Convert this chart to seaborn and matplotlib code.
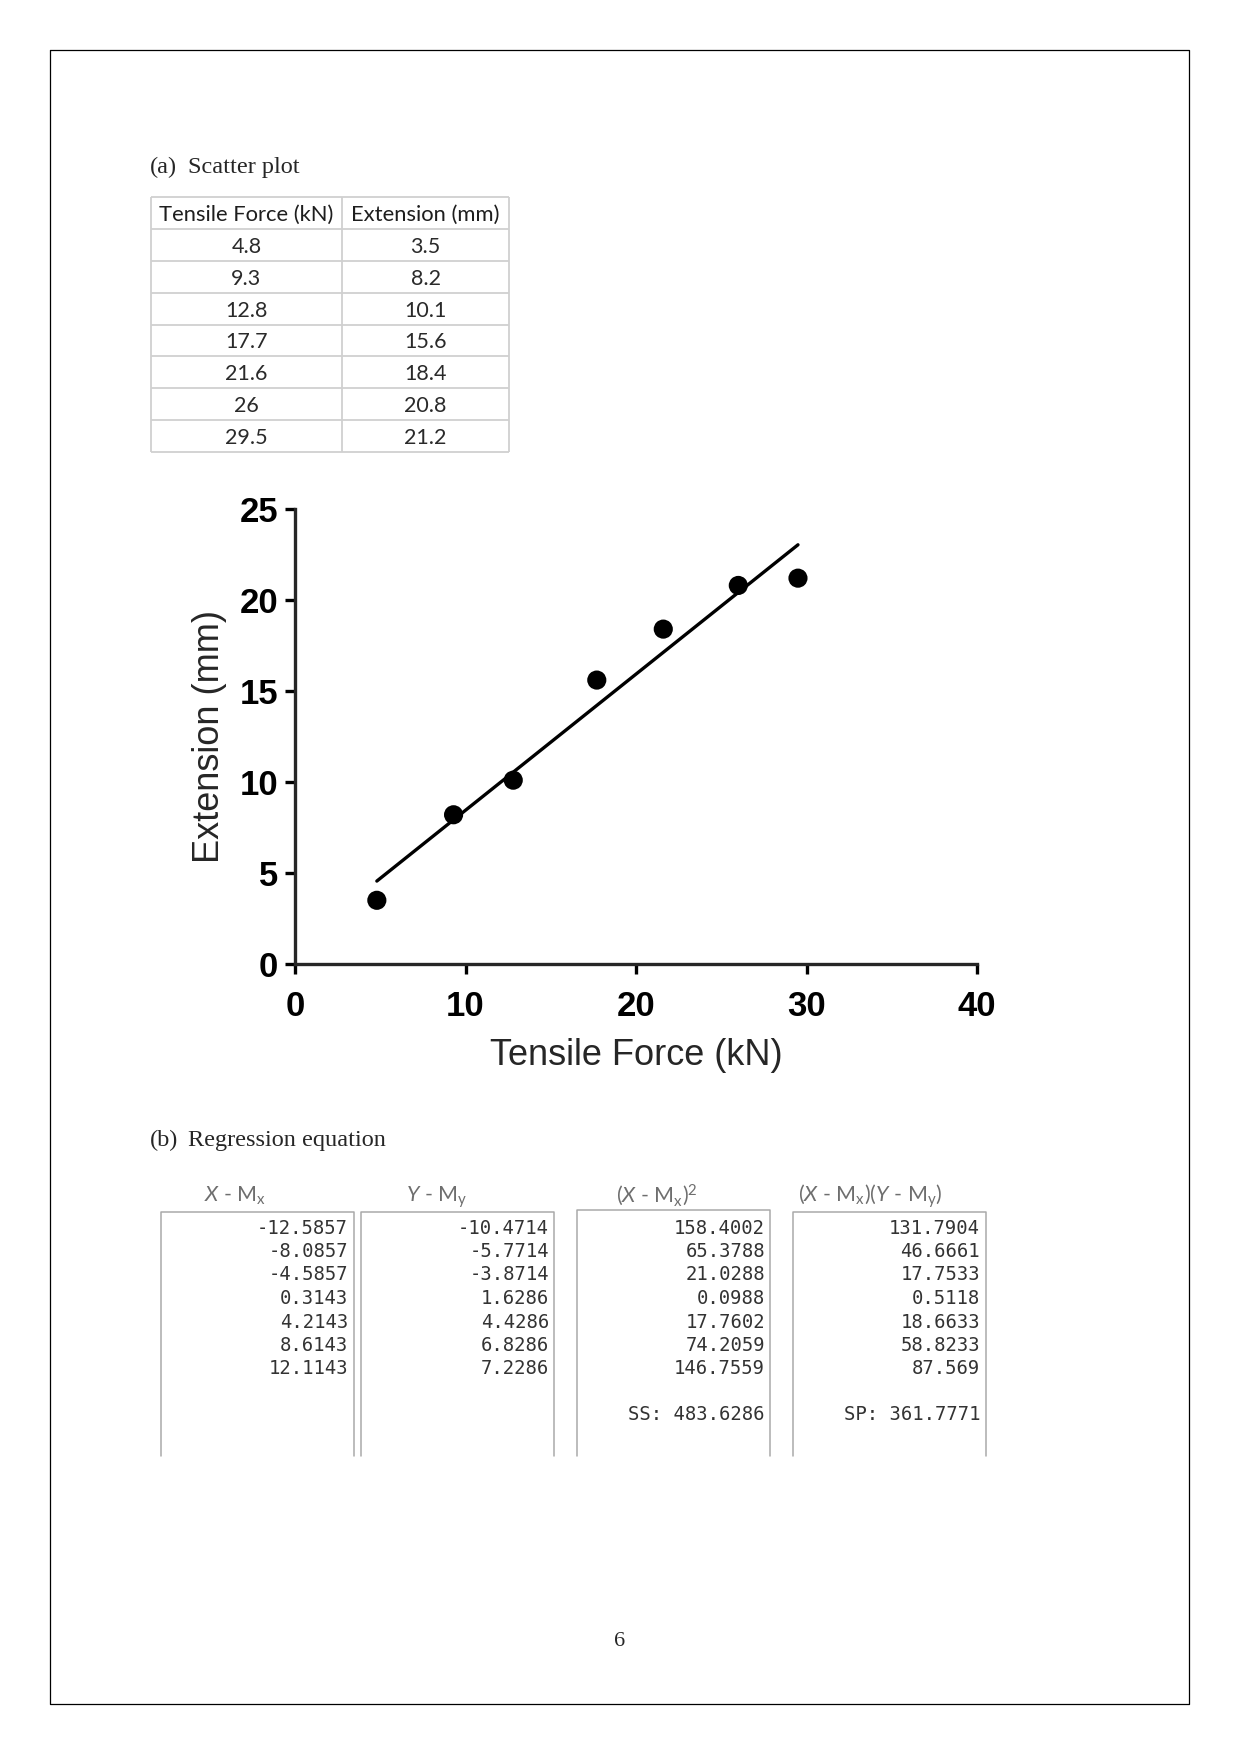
import matplotlib
matplotlib.use("Agg")
import matplotlib.pyplot as plt
import seaborn as sns
import pandas as pd

# ---------------- data ----------------
force = [4.8, 9.3, 12.8, 17.7, 21.6, 26, 29.5]
extension = [3.5, 8.2, 10.1, 15.6, 18.4, 20.8, 21.2]
table_headers = ["Tensile Force (kN)", "Extension (mm)"]
x_ticks = [0, 10, 20, 30, 40]
y_ticks = [0, 5, 10, 15, 20, 25]
x_label = "Tensile Force (kN)"
y_label = "Extension (mm)"

dev_headers = [r"$\mathit{X}$ - M$_\mathrm{x}$",
               r"$\mathit{Y}$ - M$_\mathrm{y}$",
               r"($\mathit{X}$ - M$_\mathrm{x}$)$^\mathrm{2}$",
               r"($\mathit{X}$ - M$_\mathrm{x}$)($\mathit{Y}$ - M$_\mathrm{y}$)"]
x_dev = ["-12.5857", "-8.0857", "-4.5857", "0.3143", "4.2143", "8.6143", "12.1143"]
y_dev = ["-10.4714", "-5.7714", "-3.8714", "1.6286", "4.4286", "6.8286", "7.2286"]
x_dev_sq = ["158.4002", "65.3788", "21.0288", "0.0988", "17.7602", "74.2059", "146.7559"]
xy_prod = ["131.7904", "46.6661", "17.7533", "0.5118", "18.6633", "58.8233", "87.569"]
sum_labels = ["", "", "SS: 483.6286", "SP: 361.7771"]

# ---------------- style ----------------
sns.set_style("ticks")
plt.rcParams["font.family"] = ["Liberation Sans", "DejaVu Sans"]
plt.rcParams["mathtext.fontset"] = "custom"
plt.rcParams["mathtext.rm"] = "Lato"
plt.rcParams["mathtext.it"] = "Lato:italic"
plt.rcParams["mathtext.bf"] = "Lato:bold"

W, H = 1241, 1754
fig = plt.figure(figsize=(W / 100, H / 100), dpi=100)
fig.patch.set_facecolor("white")

# overlay in page pixel coordinates
ax0 = fig.add_axes([0, 0, 1, 1])
ax0.set_xlim(0, W)
ax0.set_ylim(H, 0)
ax0.axis("off")

# page border
ax0.plot([50, 1189, 1189, 50, 50], [50, 50, 1704, 1704, 50], color="black", lw=0.9)

serif = ["Liberation Serif", "DejaVu Serif"]
ax0.text(150, 173, "(a)", family=serif, fontsize=17.5, va="baseline", ha="left")
ax0.text(188, 173, "Scatter plot", family=serif, fontsize=17.5, va="baseline", ha="left")
ax0.text(150, 1146, "(b)", family=serif, fontsize=17.5, va="baseline", ha="left")
ax0.text(188, 1146, "Regression equation", family=serif, fontsize=17.5, va="baseline", ha="left")
ax0.text(620, 1646, "6", family=serif, fontsize=16, va="baseline", ha="center")

# ---------------- top data table ----------------
col_edges = [151, 342, 509]
top, head_h, row_h = 197, 32.3, 31.77
row_edges = [top, top + head_h] + [top + head_h + row_h * (i + 1) for i in range(len(force))]
ax0.hlines(row_edges, col_edges[0], col_edges[-1], color="#d0d0d0", lw=1.3)
ax0.vlines(col_edges, row_edges[0], row_edges[-1], color="#d0d0d0", lw=1.3)
tfont = ["Lato", "DejaVu Sans"]
cx = [(col_edges[0] + col_edges[1]) / 2, (col_edges[1] + col_edges[2]) / 2]
for j, h in enumerate(table_headers):
    ax0.text(cx[j], top + head_h / 2 + 1.5, h, family=tfont, fontsize=15.8, color="#1e1e1e",
             ha="center", va="center")
for i, (f, e) in enumerate(zip(force, extension)):
    yc = top + head_h + row_h * (i + 0.5) + 2
    ax0.text(cx[0], yc, str(f), family=tfont, fontsize=15.5, color="#2a2a2a", ha="center", va="center")
    ax0.text(cx[1], yc, str(e), family=tfont, fontsize=15.5, color="#2a2a2a", ha="center", va="center")

# ---------------- scatter plot ----------------
ax = fig.add_axes([295 / W, 1 - 964 / H, (977 - 295) / W, (964 - 509) / H])
ax.patch.set_alpha(0)
df = pd.DataFrame({"force": force, "extension": extension})
sns.regplot(data=df, x="force", y="extension", ci=None, ax=ax, color="black",
            scatter_kws=dict(s=190, edgecolor="none", alpha=1, zorder=3, clip_on=False),
            line_kws=dict(lw=2.4, color="black"))
ax.set_xlim(0, 40)
ax.set_ylim(0, 25)
ax.set_xticks(x_ticks)
ax.set_yticks(y_ticks)
sns.despine(ax=ax)
for sp in ["left", "bottom"]:
    ax.spines[sp].set_linewidth(2.4)
ax.tick_params(width=2.4, length=7, labelsize=25, pad=5, direction="out", colors="black")
ax.tick_params(axis="x", pad=11.5)
for lbl in ax.get_xticklabels() + ax.get_yticklabels():
    lbl.set_fontweight("bold")
ax.set_xlabel(x_label, fontsize=26)
ax.set_ylabel(y_label, fontsize=26)
ax.xaxis.set_label_coords(0.5, -0.163)
ax.yaxis.set_label_coords(-0.100, 0.5)

# ---------------- deviation tables ----------------
boxes = [(161, 354, 1212), (361, 554, 1212), (577, 770, 1210), (793, 986, 1212)]
right_x = [348, 549, 765, 980]
head_cx = [235, 437, 657, 870]
columns = [x_dev, y_dev, x_dev_sq, xy_prod]
bottom = 1456
mono = ["DejaVu Sans Mono"]
for k, (x0, x1, t) in enumerate(boxes):
    ax0.plot([x0, x0, x1, x1], [bottom, t, t, bottom], color="#a9a9a9", lw=1.1)
    ax0.text(head_cx[k], 1202, dev_headers[k], family=tfont, fontsize=15.5, color="#6e6e6e",
             ha="center", va="baseline")
    for i, v in enumerate(columns[k]):
        ax0.text(right_x[k], 1228 + 23.5 * i, v, family=mono, fontsize=13.6, color="#333333",
                 ha="right", va="center")
    if sum_labels[k]:
        ax0.text(right_x[k], 1415, sum_labels[k], family=mono, fontsize=13.6, color="#333333",
                 ha="right", va="center")

fig.savefig("out.png", dpi=100, facecolor="white")
